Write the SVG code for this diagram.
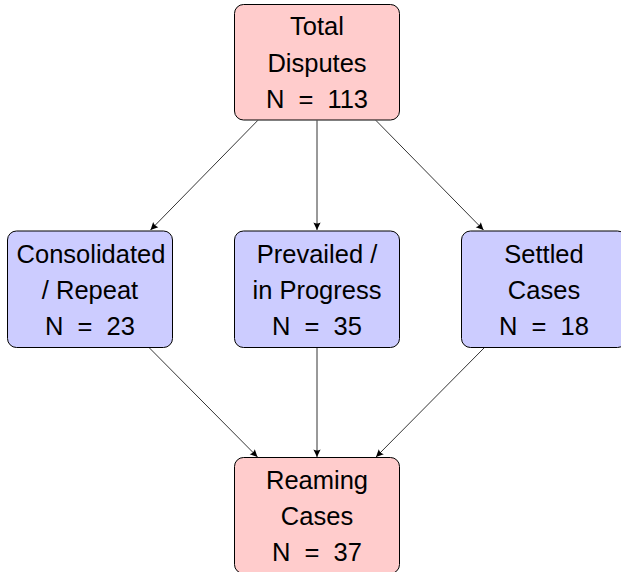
<svg xmlns="http://www.w3.org/2000/svg" width="621" height="572" viewBox="0 0 621 572">
<defs>
<style>
.box{stroke:#000;stroke-width:1}
.pink{fill:#ffcccc}
.blue{fill:#ccccff}
.t{font-family:"Liberation Sans","DejaVu Sans",sans-serif;font-size:25.5px;fill:#000;text-anchor:middle}
.n{word-spacing:7px}
.edge{stroke:#000;stroke-width:0.8;fill:none;marker-end:url(#arr)}
</style>
<marker id="arr" markerUnits="userSpaceOnUse" markerWidth="12" markerHeight="12" viewBox="-10 -5 12 10" refX="0" refY="0" orient="auto">
<path d="M0,0 L-7.5,-3.6 Q-5.5,0 -7.5,3.6 Z" fill="#000"/>
</marker>
</defs>
<rect width="621" height="572" fill="#fff"/>
<g id="connectors">
<line class="edge" x1="257.7" y1="120.5" x2="150.5" y2="230"/>
<line class="edge" x1="317" y1="120.5" x2="317" y2="230"/>
<line class="edge" x1="376" y1="120.5" x2="483.5" y2="230"/>
<line class="edge" x1="149" y1="347.5" x2="257.5" y2="457"/>
<line class="edge" x1="317" y1="347.5" x2="317" y2="457"/>
<line class="edge" x1="484.5" y1="347.5" x2="376" y2="457"/>
</g>
<g id="total">
<rect class="box pink" x="234.5" y="4.5" width="165" height="115.5" rx="9"/>
<text class="t" x="317" y="35">Total</text>
<text class="t" x="317" y="72">Disputes</text>
<text class="t n" x="317" y="108">N = 113</text>
</g>
<g id="consolidated">
<rect class="box blue" x="7.5" y="231" width="165" height="116.5" rx="9"/>
<text class="t" x="91" y="263">Consolidated</text>
<text class="t" x="90" y="299">/ Repeat</text>
<text class="t n" x="90" y="335">N = 23</text>
</g>
<g id="prevailed">
<rect class="box blue" x="234.5" y="231" width="165" height="116.5" rx="9"/>
<text class="t" x="317" y="263">Prevailed /</text>
<text class="t" x="317" y="299">in Progress</text>
<text class="t n" x="317" y="335">N = 35</text>
</g>
<g id="settled">
<rect class="box blue" x="461.5" y="231" width="165" height="116.5" rx="9"/>
<text class="t" x="544" y="263">Settled</text>
<text class="t" x="544" y="299">Cases</text>
<text class="t n" x="544" y="335">N = 18</text>
</g>
<g id="remaining">
<rect class="box pink" x="234.5" y="457.5" width="165" height="116" rx="9"/>
<text class="t" x="317" y="489">Reaming</text>
<text class="t" x="317" y="525">Cases</text>
<text class="t n" x="317" y="561">N = 37</text>
</g>
</svg>
